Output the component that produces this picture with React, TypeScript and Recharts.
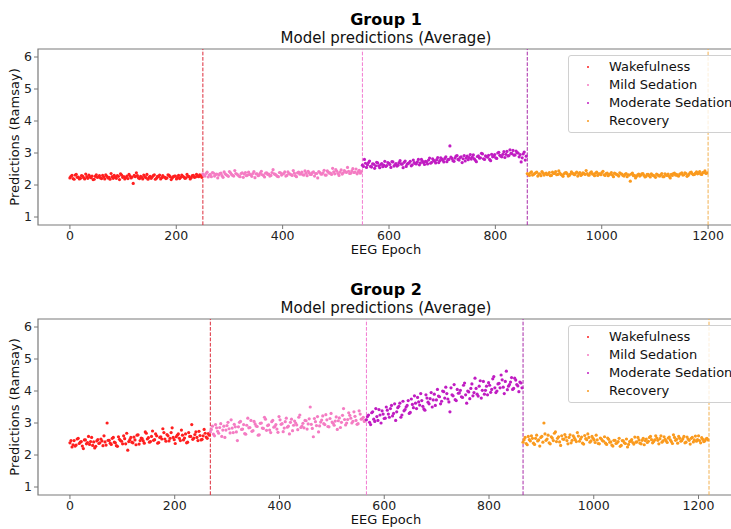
import React from 'react'
import { ScatterChart, Scatter, XAxis, YAxis, ReferenceLine, ReferenceArea } from 'recharts'

const FONT = '"DejaVu Sans", sans-serif'

const STAGES = ['Wakefulness', 'Mild Sedation', 'Moderate Sedation', 'Recovery']
const STAGE_COLORS = ['#ff1f1f', '#f47cc3', '#c01cc2', '#fa9a1e']
const LINE_COLORS = ['#dd2b3a', '#f27ad0', '#a82aa8', '#f2b050']

const X_TICKS = [0, 200, 400, 600, 800, 1000, 1200]
const Y_TICKS = [1, 2, 3, 4, 5, 6]
const Y_DOMAIN: [number, number] = [0.75, 6.25]

// Group 1: stage boundaries (EEG epoch) and averaged predictions per stage
// (A = even epochs, B = odd epochs)
const G1_BOUNDS = [0, 250, 550, 860, 1200]
const G1_WAKE_A = [2.22, 2.30, 2.18, 2.33, 2.25, 2.21, 2.28, 2.19, 2.26, 2.31, 2.23, 2.17, 2.27, 2.24, 2.29, 2.20, 2.25, 2.32, 2.22, 2.18, 2.26, 2.30, 2.21, 2.27, 2.35, 2.24, 2.19, 2.28, 2.33, 2.22, 2.05, 2.26, 2.29, 2.20, 2.24, 2.31, 2.23, 2.18, 2.27, 2.25, 2.32, 2.21, 2.26, 2.19, 2.29, 2.24, 2.22, 2.30, 2.17, 2.26, 2.28, 2.23, 2.20, 2.31, 2.25, 2.22, 2.27, 2.19, 2.29, 2.24, 2.33, 2.26, 2.30]
const G1_WAKE_B = [2.27, 2.20, 2.31, 2.24, 2.19, 2.29, 2.23, 2.34, 2.21, 2.26, 2.28, 2.18, 2.32, 2.25, 2.22, 2.30, 2.19, 2.27, 2.24, 2.36, 2.21, 2.25, 2.29, 2.17, 2.31, 2.26, 2.23, 2.20, 2.28, 2.25, 2.30, 2.38, 2.22, 2.27, 2.19, 2.26, 2.33, 2.24, 2.21, 2.29, 2.18, 2.27, 2.31, 2.23, 2.25, 2.20, 2.32, 2.26, 2.22, 2.28, 2.19, 2.30, 2.24, 2.27, 2.21, 2.33, 2.26, 2.23, 2.30, 2.25, 2.28, 2.32, 2.24]
const G1_MILD_A = [2.35, 2.28, 2.40, 2.31, 2.26, 2.37, 2.33, 2.22, 2.36, 2.29, 2.41, 2.32, 2.27, 2.38, 2.30, 2.45, 2.34, 2.28, 2.36, 2.24, 2.39, 2.31, 2.33, 2.27, 2.42, 2.35, 2.29, 2.37, 2.32, 2.25, 2.38, 2.34, 2.30, 2.48, 2.33, 2.27, 2.39, 2.31, 2.36, 2.28, 2.41, 2.34, 2.30, 2.37, 2.26, 2.40, 2.35, 2.32, 2.44, 2.29, 2.38, 2.33, 2.41, 2.36, 2.22, 2.39, 2.34, 2.46, 2.31, 2.40, 2.37, 2.52, 2.35, 2.43, 2.30, 2.47, 2.38, 2.42, 2.55, 2.36, 2.44, 2.39, 2.50, 2.41, 2.37]
const G1_MILD_B = [2.30, 2.36, 2.25, 2.33, 2.39, 2.28, 2.34, 2.31, 2.37, 2.24, 2.35, 2.30, 2.42, 2.33, 2.28, 2.36, 2.31, 2.26, 2.38, 2.34, 2.29, 2.40, 2.32, 2.36, 2.23, 2.35, 2.31, 2.43, 2.30, 2.37, 2.33, 2.28, 2.39, 2.35, 2.31, 2.26, 2.38, 2.34, 2.41, 2.30, 2.36, 2.32, 2.45, 2.29, 2.38, 2.34, 2.40, 2.31, 2.37, 2.43, 2.33, 2.39, 2.28, 2.36, 2.42, 2.34, 2.38, 2.31, 2.44, 2.37, 2.33, 2.41, 2.48, 2.36, 2.40, 2.34, 2.45, 2.39, 2.43, 2.37, 2.51, 2.40, 2.35, 2.46, 2.42]
const G1_MOD_A = [2.62, 2.80, 2.55, 2.70, 2.58, 2.66, 2.52, 2.71, 2.60, 2.64, 2.57, 2.74, 2.61, 2.68, 2.55, 2.72, 2.63, 2.59, 2.70, 2.66, 2.54, 2.75, 2.65, 2.69, 2.60, 2.78, 2.67, 2.72, 2.63, 2.80, 2.70, 2.74, 2.66, 2.84, 2.71, 2.77, 2.69, 2.86, 2.76, 2.81, 2.72, 2.88, 2.79, 3.22, 2.83, 2.74, 2.90, 2.80, 2.86, 2.70, 2.92, 2.84, 2.79, 2.95, 2.87, 2.82, 2.73, 2.91, 2.85, 2.97, 2.80, 2.89, 2.93, 2.76, 2.88, 2.95, 2.83, 3.02, 2.90, 2.96, 2.86, 3.05, 2.92, 2.99, 3.08, 2.94, 3.01, 2.88, 2.72, 2.97, 2.78]
const G1_MOD_B = [2.58, 2.68, 2.63, 2.75, 2.56, 2.65, 2.60, 2.69, 2.54, 2.67, 2.62, 2.58, 2.70, 2.64, 2.73, 2.59, 2.67, 2.62, 2.76, 2.65, 2.71, 2.58, 2.68, 2.74, 2.63, 2.70, 2.66, 2.80, 2.69, 2.75, 2.64, 2.72, 2.78, 2.68, 2.82, 2.74, 2.79, 2.70, 2.85, 2.77, 2.83, 2.73, 2.80, 2.87, 2.76, 2.84, 2.92, 2.78, 2.88, 2.82, 2.75, 2.90, 2.86, 2.81, 2.94, 2.77, 2.89, 2.84, 2.99, 2.82, 2.91, 2.87, 2.80, 2.96, 2.90, 2.85, 3.00, 2.93, 2.88, 3.04, 2.96, 2.91, 3.10, 2.98, 2.93, 3.06, 3.00, 2.95, 2.85, 3.03, 2.90]
const G1_REC_A = [2.36, 2.30, 2.41, 2.33, 2.38, 2.28, 2.35, 2.42, 2.31, 2.37, 2.34, 2.29, 2.40, 2.36, 2.32, 2.44, 2.33, 2.27, 2.38, 2.35, 2.30, 2.41, 2.34, 2.37, 2.28, 2.39, 2.33, 2.36, 2.45, 2.31, 2.38, 2.34, 2.29, 2.40, 2.35, 2.32, 2.43, 2.30, 2.37, 2.33, 2.39, 2.26, 2.35, 2.31, 2.38, 2.34, 2.28, 2.36, 2.32, 2.12, 2.37, 2.30, 2.27, 2.34, 2.31, 2.36, 2.25, 2.33, 2.29, 2.35, 2.30, 2.24, 2.32, 2.28, 2.36, 2.26, 2.31, 2.34, 2.22, 2.30, 2.37, 2.33, 2.28, 2.35, 2.31, 2.38, 2.27, 2.34, 2.40, 2.32, 2.37, 2.35, 2.42, 2.33, 2.39, 2.36]
const G1_REC_B = [2.33, 2.38, 2.31, 2.36, 2.40, 2.34, 2.29, 2.37, 2.35, 2.32, 2.39, 2.30, 2.36, 2.42, 2.33, 2.37, 2.31, 2.35, 2.39, 2.28, 2.34, 2.37, 2.32, 2.40, 2.35, 2.30, 2.38, 2.33, 2.36, 2.31, 2.41, 2.34, 2.37, 2.30, 2.35, 2.39, 2.32, 2.36, 2.29, 2.34, 2.31, 2.37, 2.33, 2.28, 2.35, 2.30, 2.33, 2.26, 2.31, 2.34, 2.29, 2.22, 2.32, 2.28, 2.35, 2.30, 2.27, 2.33, 2.25, 2.31, 2.28, 2.34, 2.29, 2.32, 2.26, 2.35, 2.30, 2.27, 2.33, 2.36, 2.31, 2.29, 2.34, 2.38, 2.32, 2.36, 2.30, 2.39, 2.35, 2.33, 2.41, 2.37, 2.34, 2.39, 2.44, 2.38]

// Group 2
const G2_BOUNDS = [0, 268, 566, 865, 1220]
const G2_WAKE_A = [2.38, 2.25, 2.45, 2.31, 2.52, 2.40, 2.28, 2.47, 2.35, 2.58, 2.42, 2.30, 2.22, 2.44, 2.36, 2.50, 2.29, 2.41, 3.00, 2.46, 2.33, 2.55, 2.38, 2.27, 2.49, 2.43, 2.60, 2.35, 2.15, 2.48, 2.40, 2.56, 2.32, 2.63, 2.45, 2.51, 2.37, 2.68, 2.54, 2.42, 2.75, 2.48, 2.60, 2.39, 2.57, 2.82, 2.50, 2.64, 2.44, 2.70, 2.55, 2.36, 2.62, 2.52, 2.78, 2.47, 2.66, 2.40, 2.58, 2.95, 2.53, 2.72, 2.45, 2.61, 2.49, 2.80, 2.56, 2.67]
const G2_WAKE_B = [2.45, 2.32, 2.28, 2.50, 2.36, 2.42, 2.20, 2.47, 2.39, 2.33, 2.55, 2.41, 2.27, 2.48, 2.38, 2.44, 2.60, 2.31, 2.46, 2.37, 2.52, 2.40, 2.29, 2.57, 2.45, 2.35, 2.51, 2.68, 2.42, 2.55, 2.38, 2.47, 2.62, 2.34, 2.53, 2.44, 2.72, 2.50, 2.40, 2.58, 2.46, 2.66, 2.37, 2.55, 2.50, 2.70, 2.43, 2.60, 2.52, 2.85, 2.48, 2.57, 2.66, 2.45, 2.62, 2.53, 2.38, 2.70, 2.58, 2.49, 2.64, 2.55, 2.74, 2.47, 2.60, 2.68, 2.52, 2.62]
const G2_MILD_A = [2.72, 2.90, 2.60, 2.85, 2.68, 2.98, 2.78, 2.55, 2.92, 2.82, 3.10, 2.70, 2.88, 2.45, 3.02, 2.80, 2.95, 2.65, 3.15, 2.86, 2.74, 3.05, 2.91, 2.62, 2.99, 2.84, 3.18, 2.77, 2.94, 2.70, 3.08, 2.89, 2.81, 3.20, 2.96, 2.73, 3.04, 2.87, 2.66, 3.12, 2.93, 3.00, 2.79, 3.25, 2.90, 2.85, 3.07, 2.97, 3.50, 2.83, 3.14, 2.92, 2.72, 3.03, 3.22, 2.95, 3.10, 2.88, 3.30, 2.99, 3.06, 2.80, 3.16, 3.02, 3.45, 2.94, 3.11, 3.24, 3.00, 3.35, 3.08, 2.98, 3.28, 3.13, 3.05]
const G2_MILD_B = [2.80, 2.65, 2.95, 2.74, 2.86, 2.58, 2.90, 2.78, 3.02, 2.69, 2.84, 2.96, 2.72, 2.88, 3.05, 2.81, 2.67, 2.93, 2.85, 3.08, 2.76, 2.97, 2.89, 2.63, 3.00, 2.83, 3.12, 2.92, 2.78, 3.04, 2.87, 2.95, 2.71, 3.10, 2.98, 2.84, 3.15, 2.90, 3.02, 2.76, 3.06, 2.94, 3.18, 2.86, 2.99, 3.08, 2.81, 3.13, 2.96, 2.57, 3.04, 3.20, 2.91, 3.09, 2.98, 3.26, 2.89, 3.14, 3.03, 2.93, 3.19, 3.07, 2.86, 3.24, 3.11, 3.00, 3.32, 3.15, 3.05, 3.21, 2.96, 3.38, 3.12, 3.18, 3.09]
const G2_MOD_A = [3.10, 3.25, 2.95, 3.35, 3.05, 3.20, 3.42, 3.00, 3.28, 3.15, 3.40, 3.18, 3.55, 3.30, 3.08, 3.48, 3.62, 3.25, 3.38, 3.50, 3.70, 3.33, 3.58, 3.85, 3.45, 3.66, 3.92, 3.52, 3.40, 3.78, 3.60, 3.95, 3.72, 3.55, 4.05, 3.82, 3.68, 3.98, 4.12, 3.75, 3.35, 3.88, 4.20, 3.70, 3.93, 4.02, 3.80, 4.25, 3.62, 3.97, 4.08, 3.85, 4.40, 3.90, 4.15, 3.78, 4.30, 4.02, 3.88, 4.18, 4.05, 4.45, 3.95, 4.22, 4.10, 4.35, 3.92, 4.62, 4.15, 4.28, 4.05, 4.40, 4.20, 3.98, 4.25]
const G2_MOD_B = [3.20, 3.02, 3.32, 3.12, 3.45, 3.08, 3.25, 3.38, 3.14, 3.50, 3.28, 3.45, 3.22, 3.60, 3.35, 3.52, 3.18, 3.68, 3.42, 3.55, 3.30, 3.75, 3.48, 3.62, 3.80, 3.56, 3.70, 3.44, 3.88, 3.65, 3.76, 3.50, 3.90, 3.72, 3.84, 3.60, 4.00, 3.78, 3.92, 3.66, 4.10, 3.85, 3.73, 4.05, 3.94, 3.82, 4.18, 3.88, 4.00, 3.76, 4.22, 3.95, 4.08, 3.84, 4.32, 4.02, 3.90, 4.15, 4.26, 3.96, 4.38, 4.10, 4.00, 4.24, 4.50, 4.12, 4.30, 4.04, 4.20, 4.42, 4.08, 4.34, 4.16, 4.28, 4.10]
const G2_REC_A = [2.40, 2.55, 2.32, 2.48, 2.60, 2.37, 2.52, 2.44, 2.28, 2.58, 3.00, 2.46, 2.62, 2.35, 2.53, 2.68, 2.42, 2.57, 2.30, 2.50, 2.64, 2.45, 2.55, 2.38, 2.60, 2.48, 2.70, 2.43, 2.56, 2.34, 2.51, 2.66, 2.40, 2.58, 2.47, 2.62, 2.36, 2.53, 2.45, 2.57, 2.33, 2.49, 2.41, 2.28, 2.46, 2.38, 2.52, 2.30, 2.44, 2.36, 2.25, 2.42, 2.48, 2.34, 2.40, 2.55, 2.37, 2.46, 2.32, 2.50, 2.43, 2.58, 2.38, 2.47, 2.53, 2.35, 2.60, 2.44, 2.49, 2.39, 2.56, 2.42, 2.63, 2.46, 2.37, 2.52, 2.45, 2.58, 2.40, 2.50, 2.34, 2.55, 2.47, 2.43, 2.60, 2.38, 2.49, 2.44, 2.52]
const G2_REC_B = [2.48, 2.36, 2.58, 2.44, 2.52, 2.33, 2.62, 2.47, 2.55, 2.40, 2.66, 2.50, 2.38, 2.57, 2.45, 2.72, 2.52, 2.41, 2.60, 2.49, 2.56, 2.35, 2.63, 2.46, 2.54, 2.42, 2.59, 2.50, 2.37, 2.61, 2.48, 2.55, 2.44, 2.52, 2.39, 2.47, 2.35, 2.50, 2.43, 2.37, 2.53, 2.40, 2.31, 2.46, 2.36, 2.42, 2.27, 2.45, 2.38, 2.50, 2.33, 2.44, 2.39, 2.56, 2.41, 2.47, 2.35, 2.52, 2.45, 2.39, 2.55, 2.48, 2.42, 2.60, 2.46, 2.51, 2.40, 2.57, 2.44, 2.53, 2.47, 2.36, 2.55, 2.49, 2.58, 2.43, 2.51, 2.38, 2.56, 2.46, 2.52, 2.41, 2.59, 2.48, 2.45, 2.54, 2.42, 2.50, 2.47]

interface PanelProps {
  title: string
  top: number
  bounds: number[]
  series: [number[], number[]][]
  xDomain: [number, number]
  chartWidth: number
}

function Panel({ title, top, bounds, series, xDomain, chartWidth }: PanelProps) {
  // spread each stage's points across its epoch range, B values between A values
  const data = series.map(([a, b], s) => {
    const span = bounds[s + 1] - bounds[s]
    return [
      ...a.map((v, i) => ({ epoch: bounds[s] + (i * span) / a.length, value: v })),
      ...b.map((v, i) => ({ epoch: bounds[s] + ((i + 0.5) * span) / b.length, value: v })),
    ]
  })
  const tick = { fill: '#222', fontSize: 12.5, fontFamily: FONT }

  return (
    <div style={{ position: 'absolute', left: 0, top, width: 731, height: 264, overflow: 'hidden' }}>
      <ScatterChart width={chartWidth} height={264} margin={{ top: 49, right: 0, bottom: 0, left: 0 }}>
        <XAxis
          type="number"
          dataKey="epoch"
          domain={xDomain}
          ticks={X_TICKS}
          allowDataOverflow
          height={39}
          axisLine={false}
          tickSize={4}
          tickLine={{ stroke: '#777' }}
          tick={tick}
        />
        <YAxis
          type="number"
          dataKey="value"
          domain={Y_DOMAIN}
          ticks={Y_TICKS}
          allowDataOverflow
          width={38}
          axisLine={false}
          tickSize={4}
          tickLine={{ stroke: '#777' }}
          tick={tick}
        />
        <ReferenceArea
          x1={xDomain[0]}
          x2={xDomain[1]}
          y1={Y_DOMAIN[0]}
          y2={Y_DOMAIN[1]}
          fill="none"
          fillOpacity={0}
          stroke="#7a7a7a"
          strokeWidth={1.2}
        />
        {bounds.slice(1).map((b, i) => (
          <ReferenceLine key={b} x={b} stroke={LINE_COLORS[i]} strokeWidth={1} strokeDasharray="3.7 1.6" />
        ))}
        {data.map((d, i) => (
          <Scatter
            key={STAGES[i]}
            name={STAGES[i]}
            data={d}
            fill={STAGE_COLORS[i]}
            isAnimationActive={false}
            shape={(p: any) => <circle cx={p.cx} cy={p.cy} r={1.6} fill={STAGE_COLORS[i]} />}
          />
        ))}
      </ScatterChart>

      <div style={{ position: 'absolute', left: 286, top: 12, width: 200, textAlign: 'center', fontFamily: FONT, fontWeight: 'bold', fontSize: 16, lineHeight: '16px', color: '#000' }}>
        {title}
      </div>
      <div style={{ position: 'absolute', left: 236, top: 31, width: 300, textAlign: 'center', fontFamily: FONT, fontSize: 15, lineHeight: '15px', color: '#111' }}>
        Model predictions (Average)
      </div>
      <div style={{ position: 'absolute', left: 286, top: 243, width: 200, textAlign: 'center', fontFamily: FONT, fontSize: 13, lineHeight: '13px', color: '#111' }}>
        EEG Epoch
      </div>
      <div style={{ position: 'absolute', left: 15 - 80, top: 137 - 8, width: 160, height: 16, textAlign: 'center', fontFamily: FONT, fontSize: 13, lineHeight: '16px', color: '#111', transform: 'rotate(-90deg)' }}>
        Predictions (Ramsay)
      </div>

      <div style={{ position: 'absolute', left: 568, top: 55, width: 200, height: 76, border: '1px solid #d0d0d0', borderRadius: 3, background: 'rgba(255,255,255,0.8)' }}>
        {STAGES.map((s, i) => (
          <div key={s} style={{ position: 'absolute', left: 0, top: 2 + i * 18, height: 18, width: 200 }}>
            <div style={{ position: 'absolute', left: 18, top: 8, width: 2.4, height: 2.4, borderRadius: '50%', background: STAGE_COLORS[i] }} />
            <div style={{ position: 'absolute', left: 40, top: 1, fontFamily: FONT, fontSize: 13, lineHeight: '16px', color: '#111', whiteSpace: 'nowrap' }}>
              {s}
            </div>
          </div>
        ))}
      </div>
    </div>
  )
}

export default function App() {
  return (
    <div style={{ position: 'absolute', left: 0, top: 0, width: 731, height: 529, overflow: 'hidden', background: '#fff' }}>
      <Panel
        title="Group 1"
        top={0}
        bounds={G1_BOUNDS}
        series={[[G1_WAKE_A, G1_WAKE_B], [G1_MILD_A, G1_MILD_B], [G1_MOD_A, G1_MOD_B], [G1_REC_A, G1_REC_B]]}
        xDomain={[-60, 1260]}
        chartWidth={740}
      />
      <Panel
        title="Group 2"
        top={270}
        bounds={G2_BOUNDS}
        series={[[G2_WAKE_A, G2_WAKE_B], [G2_MILD_A, G2_MILD_B], [G2_MOD_A, G2_MOD_B], [G2_REC_A, G2_REC_B]]}
        xDomain={[-61, 1283]}
        chartWidth={742}
      />
    </div>
  )
}
